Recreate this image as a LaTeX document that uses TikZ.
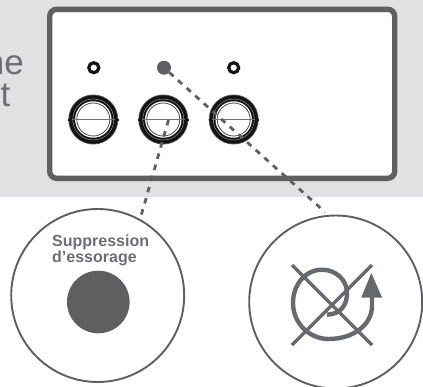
\documentclass[tikz,border=0pt]{standalone}
\usepackage{fontspec}
\setmainfont{Liberation Sans}
\definecolor{bandgray}{HTML}{E0E1E3}
\definecolor{framegray}{HTML}{5E5F61}
\definecolor{symbolgray}{HTML}{646A6E}
\definecolor{textgray}{HTML}{6D6E71}
\definecolor{ringblack}{HTML}{141414}
\tikzset{
    ledring/.style={circle,draw=ringblack,line width=3.2pt,fill=white,inner sep=0pt,minimum size=10pt},
    ledon/.style={circle,draw=none,fill=framegray,inner sep=0pt,minimum size=14pt},
    btnring/.style={circle,inner sep=0pt,draw=none},
    dashline/.style={framegray,line width=2.8pt,dash pattern=on 5.6pt off 6pt},
    bigcircle/.style={circle,draw=framegray,line width=1.9pt,inner sep=0pt,minimum size=173pt},
    symline/.style={symbolgray,line width=3.3pt},
    bandtext/.style={text=textgray,font=\fontsize{35}{35}\selectfont,inner sep=0pt},
}
\begin{document}
\begin{tikzpicture}[x=1pt,y=-1pt]
    \useasboundingbox (0,0) rectangle (423,386);
    \clip (0,0) rectangle (423,386);

    % Gray band and panel
    \fill[bandgray] (0,0) rectangle (423,197.3);
    \draw[framegray,line width=5.4pt,rounded corners=7pt,fill=white] (49.7,9.3) rectangle (394.7,178.3);

    % Cut-off text
    \node[bandtext,anchor=base east] (textone) at (24,74) {ne};
    \node[bandtext,anchor=base east] (texttwo) at (10.5,106) {t};

    % Indicator lights
    \node[ledring] (ledA) at (93.8,67.7) {};
    \node[ledon] (ledB) at (164,67.7) {};
    \node[ledring] (ledC) at (233.7,67.7) {};

    % Buttons
    \foreach \i/\bx in {A/93.3,B/163.3,C/233.7}{
        \node[btnring,fill=black!60,minimum size=50pt] (btn\i) at (\bx,119.5) {};
        \node[btnring,fill=ringblack,minimum size=48.5pt] at (\bx,119.5) {};
        \node[btnring,fill=black!35,minimum size=41.5pt] at (\bx,119.5) {};
        \node[btnring,fill=ringblack,minimum size=40.5pt] at (\bx,119.5) {};
        \node[btnring,fill=white,minimum size=36.5pt] at (\bx,119.5) {};
        \node[btnring,draw=black!70,line width=0.8pt,fill=white,minimum size=33pt] at (\bx,119.5) {};
        \draw[black!55,line width=1.2pt] (btn\i.west) -- (btn\i.east);
        \fill[ringblack] (btn\i.west) ++(0,-1) rectangle ++(3.5,2);
        \fill[ringblack] (btn\i.east) ++(0,-1) rectangle ++(-3.5,2);
    }

    % Callout circles
    \node[bigcircle,fill=white] (circL) at (97.7,295.5) {};
    \node[bigcircle,fill=white] (circR) at (335.7,302) {};

    % Dashed leaders
    \coordinate (startB) at (168.5,120);
    \coordinate (endL) at (141,216);
    \coordinate (endR) at (325,212);
    \draw[dashline] (ledB) -- (endR);
    \draw[dashline] (startB) -- (endL);

    % Left callout
    \node[align=left,anchor=north west,inner sep=0pt,text=textgray,font=\fontsize{16}{15.5}\selectfont\bfseries] (labelL) at (52,235) {Suppression\\d’essorage};
    \node[circle,fill=framegray,inner sep=0pt,minimum size=62.6pt] (dotL) at (98.3,302) {};

    % Right callout symbol
    \draw[symline] (292,265) -- (372,345);
    \draw[symline] (372,265) -- (292,345);
    \draw[symbolgray,line width=4.4pt] (327,314.7) .. controls (341,314) and (347,305) .. (347,293)
        .. controls (347,280) and (336,269.7) .. (322,269.7)
        .. controls (305,269.7) and (293,285) .. (293,303)
        .. controls (293,323) and (309,339) .. (328.7,339)
        .. controls (353,339) and (372,325) .. (372,306)
        -- (372,297);
    \fill[symbolgray] (371.3,273) -- (382,297.5) -- (361.3,297.5) -- cycle;
\end{tikzpicture}
\end{document}
